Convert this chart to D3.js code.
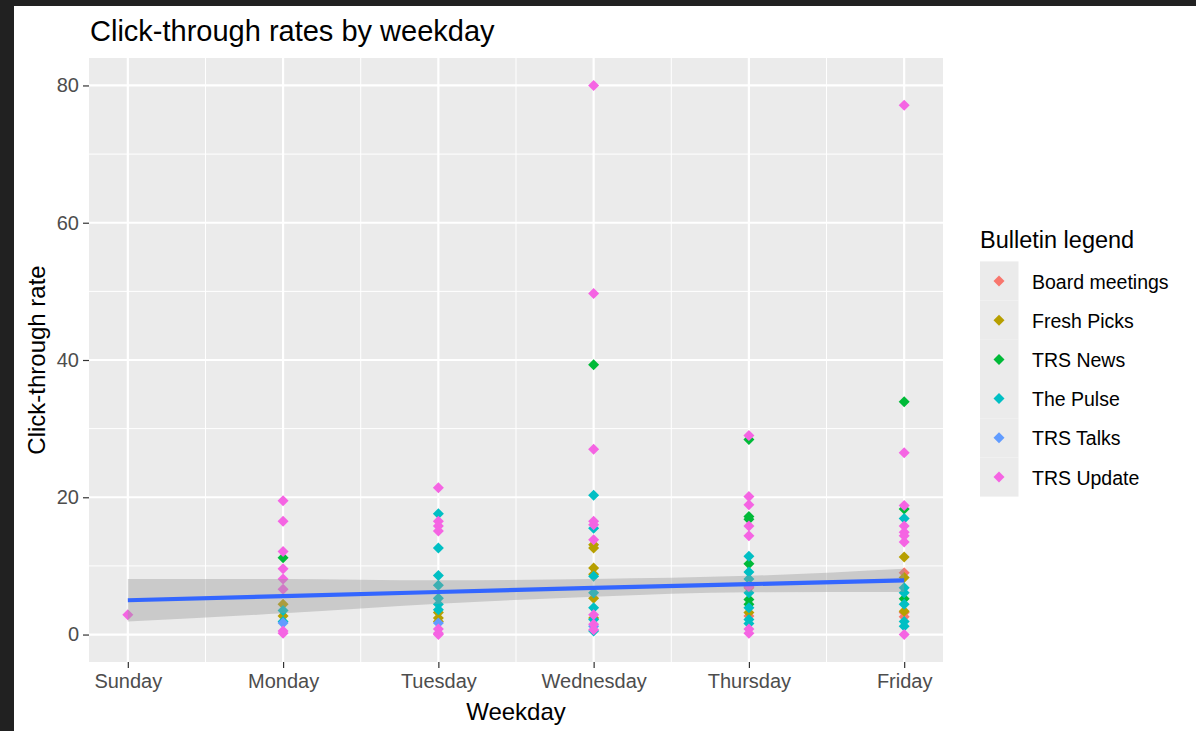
<!DOCTYPE html>
<html><head><meta charset="utf-8">
<script src="https://cdn.jsdelivr.net/npm/d3@7"></script>
<style>
html,body{margin:0;padding:0;background:#212121;}
svg{display:block;font-family:"Liberation Sans",Arial,sans-serif;}
</style></head><body>
<svg id="chart" width="1196" height="731"></svg>
<script>
// ---- data ----
const weekdays = ["Sunday","Monday","Tuesday","Wednesday","Thursday","Friday"];
const seriesNames = ["Board meetings","Fresh Picks","TRS News","The Pulse","TRS Talks","TRS Update"];
const seriesColors = ["#F8766D","#B79F00","#00BA38","#00BFC4","#619CFF","#F564E3"];
const yTicks = [0,20,40,60,80];
// [weekday index, click-through rate]
const boardMeetings = [[4,6.8],[4,2.7],[5,9.0],[5,3.2],[5,2.6]];
const freshPicks = [[1,4.4],[1,2.7],[2,3.2],[2,2.4],[2,1.9],[3,13.1],[3,12.6],[3,9.7],[3,8.8],[3,5.3],[3,2.4],[4,3.2],[5,11.3],[5,8.3],[5,3.4]];
const trsNews = [[1,11.2],[3,39.3],[4,28.4],[4,17.2],[4,16.8],[4,10.3],[4,5.1],[4,4.4],[5,33.9],[5,18.3],[5,5.2]];
const thePulse = [[1,3.5],[1,1.9],[2,17.6],[2,12.6],[2,8.6],[2,7.2],[2,5.3],[2,4.4],[2,3.6],[3,20.3],[3,15.5],[3,8.5],[3,6.1],[3,3.9],[3,2.2],[3,0.5],[4,11.4],[4,9.1],[4,8.1],[4,6.1],[4,3.9],[4,2.2],[4,1.6],[5,16.9],[5,6.8],[5,6.1],[5,4.4],[5,1.9],[5,1.2]];
const trsTalks = [[1,1.7],[2,1.7],[3,1.2]];
const trsUpdate = [[0,2.9],[1,19.5],[1,16.5],[1,12.1],[1,9.6],[1,8.1],[1,6.6],[1,0.5],[1,0.2],[2,21.4],[2,16.5],[2,15.8],[2,15.1],[2,0.8],[2,0.2],[2,0.0],[3,80.0],[3,49.7],[3,27.0],[3,16.5],[3,16.0],[3,13.8],[3,2.9],[3,1.5],[3,0.7],[4,29.0],[4,20.1],[4,18.9],[4,15.8],[4,14.4],[4,7.0],[4,0.8],[4,0.2],[5,77.1],[5,26.5],[5,18.8],[5,15.8],[5,14.9],[5,14.4],[5,13.5],[5,0.0]];
// linear smooth and its confidence band at each weekday
const fitValues = [5.0,5.6,6.2,6.8,7.35,7.9];
const fitLower  = [1.9,3.1,4.5,5.5,6.15,6.2];
const fitUpper  = [8.1,8.1,7.9,8.1,8.55,9.6];

const allSeries = [boardMeetings,freshPicks,trsNews,thePulse,trsTalks,trsUpdate];

// ---- layout ----
const svg = d3.select("#chart");
svg.append("rect").attr("x",14).attr("y",6).attr("width",1182).attr("height",725).attr("fill","#ffffff");

const P = {left:89, right:943, top:58, bottom:662};
const x = d3.scaleLinear().domain([-0.25,5.25]).range([P.left,P.right]);
const y = d3.scaleLinear().domain([-4,84]).range([P.bottom,P.top]);

// panel
svg.append("rect").attr("x",P.left).attr("y",P.top).attr("width",P.right-P.left).attr("height",P.bottom-P.top).attr("fill","#EBEBEB");
const grid = svg.append("g");
// minor grid
[10,30,50,70].forEach(v=>grid.append("line").attr("x1",P.left).attr("x2",P.right).attr("y1",y(v)).attr("y2",y(v)).attr("stroke","#fff").attr("stroke-width",1));
[0.5,1.5,2.5,3.5,4.5].forEach(v=>grid.append("line").attr("y1",P.top).attr("y2",P.bottom).attr("x1",x(v)).attr("x2",x(v)).attr("stroke","#fff").attr("stroke-width",1));
// major grid
yTicks.forEach(v=>grid.append("line").attr("x1",P.left).attr("x2",P.right).attr("y1",y(v)).attr("y2",y(v)).attr("stroke","#fff").attr("stroke-width",2.2));
weekdays.forEach((d,i)=>grid.append("line").attr("y1",P.top).attr("y2",P.bottom).attr("x1",x(i)).attr("x2",x(i)).attr("stroke","#fff").attr("stroke-width",2.2));

// points
const R = 5.5;
const diamond = `M0,${-R}L${R},0L0,${R}L${-R},0Z`;
const pts = svg.append("g");
allSeries.forEach((s,k)=>{
  pts.selectAll(null).data(s).enter().append("path")
    .attr("d",diamond)
    .attr("transform",d=>`translate(${x(d[0])},${y(d[1])})`)
    .attr("fill",seriesColors[k]);
});

// smooth band + line
const idx = d3.range(weekdays.length);
svg.append("path").datum(idx)
  .attr("d",d3.area().x(i=>x(i)).y0(i=>y(fitLower[i])).y1(i=>y(fitUpper[i])).curve(d3.curveMonotoneX))
  .attr("fill","#999999").attr("fill-opacity",0.4);
svg.append("path").datum(idx)
  .attr("d",d3.line().x(i=>x(i)).y(i=>y(fitValues[i])))
  .attr("fill","none").attr("stroke","#3366FF").attr("stroke-width",4.2);

// axes
const yAxis = d3.axisLeft(y).tickValues(yTicks).tickSize(6).tickPadding(4);
const gy = svg.append("g").attr("transform",`translate(${P.left},0)`).call(yAxis);
gy.select(".domain").remove();
gy.selectAll("line").attr("stroke","#333333").attr("stroke-width",1.2);
gy.selectAll("text").attr("fill","#4D4D4D").style("font-size","20px").style("font-family","Liberation Sans, Arial, sans-serif");

const xAxis = d3.axisBottom(x).tickValues(idx).tickFormat(i=>weekdays[i]).tickSize(6).tickPadding(6);
const gx = svg.append("g").attr("transform",`translate(0,${P.bottom})`).call(xAxis);
gx.select(".domain").remove();
gx.selectAll("line").attr("stroke","#333333").attr("stroke-width",1.2);
gx.selectAll("text").attr("fill","#4D4D4D").style("font-size","20px").style("font-family","Liberation Sans, Arial, sans-serif");

// titles
svg.append("text").attr("x",90).attr("y",41).attr("fill","#000").style("font-size","29px").text("Click-through rates by weekday");
svg.append("text").attr("x",(P.left+P.right)/2).attr("y",720).attr("text-anchor","middle").attr("fill","#000").style("font-size","24px").text("Weekday");
svg.append("text").attr("transform",`translate(45,${(P.top+P.bottom)/2}) rotate(-90)`).attr("text-anchor","middle").attr("fill","#000").style("font-size","24px").text("Click-through rate");

// legend
const lg = svg.append("g");
lg.append("text").attr("x",980).attr("y",248).attr("fill","#000").style("font-size","23.5px").text("Bulletin legend");
seriesNames.forEach((n,k)=>{
  const cy = 281 + k*39.2;
  lg.append("rect").attr("x",980).attr("y",cy-19.6).attr("width",38.5).attr("height",39.2).attr("fill","#EBEBEB");
  lg.append("path").attr("d",diamond).attr("transform",`translate(999,${cy})`).attr("fill",seriesColors[k]);
  lg.append("text").attr("x",1032).attr("y",cy+7.5).attr("fill","#000").style("font-size","19.5px").text(n);
});
</script>
</body></html>
